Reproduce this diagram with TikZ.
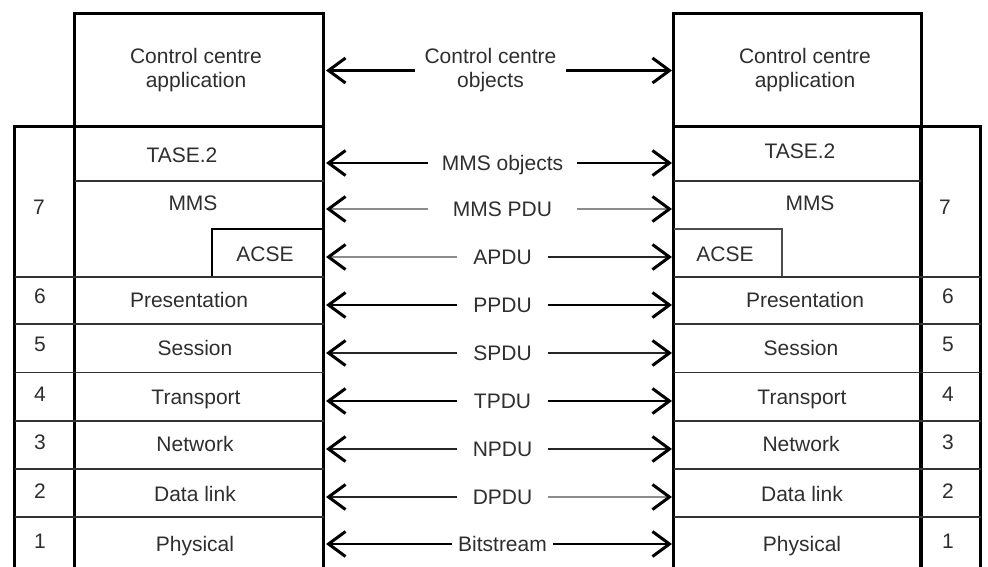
\documentclass[tikz,border=0pt]{standalone}
\usepackage{fontspec}
\setmainfont{Liberation Sans}
\usetikzlibrary{arrows.meta}

\begin{document}
\begin{tikzpicture}[x=1pt,y=-1pt,
  frame/.style={line width=3pt, black, line cap=rect},
  rule/.style={line width=1.7pt, black!80},
  acsebox/.style={line width=2.4pt, black},
  acsethin/.style={line width=1.5pt, black!70},
  txt/.style={font=\fontsize{21}{22}\selectfont, text=black!82, inner sep=0pt,
              text height=15pt, text depth=0pt},
  twoline/.style={font=\fontsize{21}{24}\selectfont, text=black!82, inner sep=0pt,
              align=center},
  pdu/.style={txt, minimum width=91pt},
  mmslbl/.style={txt, minimum width=149pt},
  tipbarb/.tip={Straight Barb[length=17pt,width=25pt,line width=3pt,color=black]},
  link/.style={line width=2.8pt, black, -tipbarb},
  thinlink/.style={line width=2pt, black!85, -tipbarb},
  faintlink/.style={line width=2pt, black!45, -tipbarb},
]
\useasboundingbox (0,0) rectangle (988,567);

% ends of the peer-to-peer arrows, at the two stacks
\coordinate (lend) at (326,0);
\coordinate (rend) at (672,0);

\begin{scope}
\clip (0,0) rectangle (988,567);

% ---------------- left stack ----------------
\draw[frame] (74.5,14) rectangle (323.7,127);
\draw[frame] (14.5,580) -- (14.5,126.5) -- (323.7,126.5) -- (323.7,580);
\draw[frame, line width=3.5pt] (74.5,127) -- (74.5,580);
\draw[rule] (74.5,181) -- (323.7,181);
\draw[acsebox] (323.7,229) -| (212,277);
\foreach \yy in {277,324,372.5,421,469,517}
  \draw[rule] (14.5,\yy) -- (323.7,\yy);

% ---------------- right stack ----------------
\draw[frame] (673.5,14) rectangle (921,127);
\draw[frame] (673.5,580) -- (673.5,126.5) -- (980.5,126.5) -- (980.5,580);
\draw[frame, line width=3.5pt] (921,127) -- (921,580);
\draw[rule] (673.5,181) -- (921,181);
\draw[acsethin] (673.5,229) -| (782,277);
\foreach \yy in {277,324,372.5,421,469,517}
  \draw[rule] (673.5,\yy) -- (980.5,\yy);
\end{scope}

% ---------------- left labels ----------------
\node[twoline] (lapp) at (196,70) {Control centre\\application};
\node[txt] (ltase)  at (182,155) {TASE.2};
\node[txt] (lmms)   at (193,203) {MMS};
\node[txt] (lacse)  at (265,254) {ACSE};
\node[txt] (lpres)  at (189,300) {Presentation};
\node[txt] (lsess)  at (195,348) {Session};
\node[txt] (ltrans) at (196,397) {Transport};
\node[txt] (lnet)   at (195,444) {Network};
\node[txt] (ldl)    at (195,494) {Data link};
\node[txt] (lphy)   at (195,544) {Physical};

\node[txt] (ln7) at (39,207) {7};
\node[txt] (ln6) at (40,296) {6};
\node[txt] (ln5) at (40,344) {5};
\node[txt] (ln4) at (40,394) {4};
\node[txt] (ln3) at (40,442) {3};
\node[txt] (ln2) at (40,491) {2};
\node[txt] (ln1) at (40,541) {1};

% ---------------- right labels ----------------
\node[twoline] (rapp) at (805,70) {Control centre\\application};
\node[txt] (rtase)  at (800,151) {TASE.2};
\node[txt] (rmms)   at (810,203) {MMS};
\node[txt] (racse)  at (725,254) {ACSE};
\node[txt] (rpres)  at (805,300) {Presentation};
\node[txt] (rsess)  at (801,348) {Session};
\node[txt] (rtrans) at (802,397) {Transport};
\node[txt] (rnet)   at (801,444) {Network};
\node[txt] (rdl)    at (802,494) {Data link};
\node[txt] (rphy)   at (802,544) {Physical};

\node[txt] (rn7) at (945,207) {7};
\node[txt] (rn6) at (948,296) {6};
\node[txt] (rn5) at (948,344) {5};
\node[txt] (rn4) at (948,394) {4};
\node[txt] (rn3) at (948,442) {3};
\node[txt] (rn2) at (948,491) {2};
\node[txt] (rn1) at (948,541) {1};

% ---------------- peer protocol units ----------------
\node[twoline, minimum width=151pt] (cco) at (490.5,70.5) {Control centre\\objects};
\node[mmslbl] (mmsobj) at (502.5,163) {MMS objects};
\node[mmslbl] (mmspdu) at (502.5,209) {MMS PDU};
\node[pdu] (apdu) at (502.5,257) {APDU};
\node[pdu] (ppdu) at (502.5,305) {PPDU};
\node[pdu] (spdu) at (502.5,353) {SPDU};
\node[pdu] (tpdu) at (502.5,401) {TPDU};
\node[pdu] (npdu) at (502.5,449) {NPDU};
\node[pdu] (dpdu) at (502.5,497) {DPDU};
\node[txt, minimum width=101pt] (bits) at (502.5,544) {Bitstream};

\draw[link] (cco.west) -- (cco.west -| lend);
\draw[link] (cco.east) -- (cco.east -| rend);
\draw[link] (mmsobj.west) -- (mmsobj.west -| lend);
\draw[link] (mmsobj.east) -- (mmsobj.east -| rend);
\draw[faintlink] (mmspdu.west) -- (mmspdu.west -| lend);
\draw[faintlink] (mmspdu.east) -- (mmspdu.east -| rend);
\draw[faintlink] (apdu.west) -- (apdu.west -| lend);
\draw[thinlink] (apdu.east) -- (apdu.east -| rend);
\draw[link] (ppdu.west) -- (ppdu.west -| lend);
\draw[link] (ppdu.east) -- (ppdu.east -| rend);
\draw[thinlink] (spdu.west) -- (spdu.west -| lend);
\draw[thinlink] (spdu.east) -- (spdu.east -| rend);
\draw[link] (tpdu.west) -- (tpdu.west -| lend);
\draw[link] (tpdu.east) -- (tpdu.east -| rend);
\draw[thinlink] (npdu.west) -- (npdu.west -| lend);
\draw[thinlink] (npdu.east) -- (npdu.east -| rend);
\draw[thinlink] (dpdu.west) -- (dpdu.west -| lend);
\draw[faintlink] (dpdu.east) -- (dpdu.east -| rend);
\draw[link] (bits.west) -- (bits.west -| lend);
\draw[link] (bits.east) -- (bits.east -| rend);
\end{tikzpicture}
\end{document}
